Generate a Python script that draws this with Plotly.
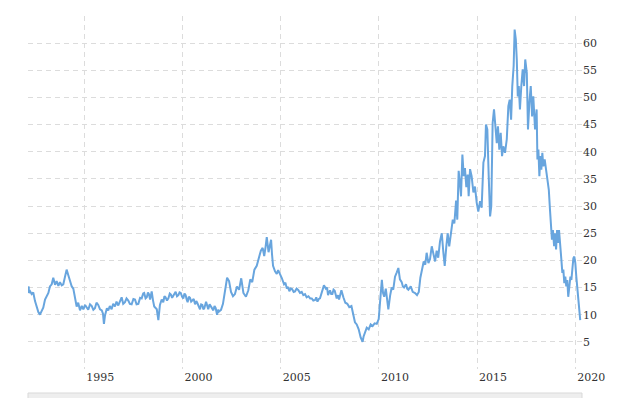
import plotly.graph_objects as go

# ---- data (decimal year, value) ----
years = [
    1992.15, 1992.17, 1992.18, 1992.24, 1992.32, 1992.40, 1992.49, 1992.58, 1992.66, 1992.74,
    1992.83, 1992.91, 1993.00, 1993.09, 1993.17, 1993.25, 1993.34, 1993.42, 1993.51, 1993.59,
    1993.68, 1993.76, 1993.85, 1993.93, 1994.02, 1994.10, 1994.19, 1994.27, 1994.36, 1994.44,
    1994.53, 1994.61, 1994.69, 1994.78, 1994.87, 1994.95,
    1995.04, 1995.12, 1995.20, 1995.29, 1995.38, 1995.46, 1995.54, 1995.62, 1995.71, 1995.80,
    1995.89, 1995.95, 1996.00, 1996.05, 1996.09, 1996.15, 1996.22, 1996.30, 1996.39, 1996.47,
    1996.56, 1996.64, 1996.73, 1996.82, 1996.90, 1996.98, 1997.07, 1997.15, 1997.24, 1997.32,
    1997.41, 1997.50, 1997.58, 1997.66, 1997.75, 1997.84, 1997.92, 1998.00, 1998.05, 1998.12,
    1998.18, 1998.24, 1998.29, 1998.35, 1998.43, 1998.50, 1998.56, 1998.69, 1998.77, 1998.85,
    1998.94, 1999.02, 1999.08, 1999.14, 1999.21, 1999.28, 1999.35, 1999.41, 1999.47, 1999.53,
    1999.59, 1999.65, 1999.72, 1999.79, 1999.85, 1999.91, 1999.98, 2000.04, 2000.10, 2000.16,
    2000.21, 2000.26, 2000.32, 2000.38, 2000.44, 2000.50, 2000.57, 2000.64, 2000.70, 2000.75,
    2000.82, 2000.89, 2000.95, 2001.01, 2001.06, 2001.11, 2001.20, 2001.25, 2001.31, 2001.38,
    2001.45, 2001.51, 2001.57, 2001.63, 2001.69, 2001.76, 2001.81, 2001.86, 2001.96, 2002.06,
    2002.16, 2002.27, 2002.37, 2002.47, 2002.57, 2002.67, 2002.77, 2002.88, 2002.99, 2003.10,
    2003.23, 2003.35, 2003.45, 2003.55, 2003.66, 2003.78, 2003.89, 2003.99, 2004.08, 2004.16,
    2004.23, 2004.29, 2004.38, 2004.45, 2004.51, 2004.56, 2004.61, 2004.71, 2004.80, 2004.87,
    2004.93, 2005.05, 2005.17, 2005.24, 2005.31, 2005.38, 2005.44, 2005.51, 2005.58, 2005.66,
    2005.73, 2005.81, 2005.90, 2005.98, 2006.07, 2006.15, 2006.24, 2006.32, 2006.41, 2006.50,
    2006.58, 2006.66, 2006.75, 2006.81, 2006.87, 2006.94, 2007.00, 2007.09, 2007.20, 2007.30,
    2007.36, 2007.41, 2007.51, 2007.57, 2007.63, 2007.69, 2007.75, 2007.85, 2007.92, 2007.97,
    2008.09, 2008.19, 2008.29, 2008.39, 2008.49, 2008.60, 2008.70, 2008.78, 2008.87, 2008.97,
    2009.07, 2009.17, 2009.22, 2009.28, 2009.38, 2009.48, 2009.58, 2009.68, 2009.78, 2009.89,
    2009.99, 2010.04, 2010.10, 2010.15, 2010.21, 2010.27, 2010.35, 2010.42, 2010.48, 2010.57,
    2010.65, 2010.73, 2010.82, 2010.91, 2010.99, 2011.07, 2011.16, 2011.22, 2011.28, 2011.38,
    2011.44, 2011.50, 2011.62, 2011.72, 2011.84, 2011.94, 2012.03, 2012.11, 2012.19, 2012.28,
    2012.36, 2012.43, 2012.52, 2012.60, 2012.69, 2012.77, 2012.86, 2012.94, 2013.02, 2013.11,
    2013.20, 2013.28, 2013.35, 2013.43, 2013.50, 2013.58, 2013.67, 2013.76, 2013.84, 2013.93,
    2013.99, 2014.06, 2014.13, 2014.18, 2014.25, 2014.32, 2014.38, 2014.45, 2014.52, 2014.57,
    2014.64, 2014.72, 2014.81, 2014.89, 2014.98, 2015.06, 2015.15, 2015.23, 2015.32, 2015.40,
    2015.45, 2015.52, 2015.59, 2015.66, 2015.72, 2015.79, 2015.86, 2015.93, 2016.00, 2016.06,
    2016.13, 2016.20, 2016.27, 2016.33, 2016.42, 2016.51, 2016.59, 2016.66, 2016.73, 2016.79,
    2016.86, 2016.91, 2016.97, 2017.02, 2017.07, 2017.12, 2017.18, 2017.25, 2017.32, 2017.39,
    2017.45, 2017.53, 2017.59, 2017.66, 2017.73, 2017.80, 2017.86, 2017.95, 2018.03, 2018.07,
    2018.12, 2018.17, 2018.22, 2018.27, 2018.32, 2018.37, 2018.44, 2018.51, 2018.57, 2018.65,
    2018.71, 2018.76, 2018.81, 2018.86, 2018.92, 2018.97, 2019.02, 2019.07, 2019.12, 2019.17,
    2019.22, 2019.29, 2019.34, 2019.39, 2019.44, 2019.49, 2019.54, 2019.59, 2019.64, 2019.69,
    2019.75, 2019.80, 2019.85, 2019.90, 2019.95, 2020.00, 2020.05, 2020.10, 2020.15, 2020.20,
    2020.25,
]

values = [
    14.5, 15.2, 14.0, 14.3, 13.8, 14.1, 12.5, 11.2, 10.5, 10.0,
    10.6, 11.3, 12.8, 13.6, 14.0, 15.2, 15.6, 16.8, 15.5, 16.2,
    15.3, 16.0, 15.4, 15.6, 17.0, 18.3, 17.2, 16.0, 15.2, 14.8,
    12.8, 11.5, 12.2, 10.8, 11.6, 11.0,
    11.8, 11.2, 10.9, 11.9, 11.6, 10.9, 11.2, 12.2, 11.8, 11.0,
    10.8, 10.2, 8.3, 9.8, 10.2, 11.2, 10.8, 11.6, 11.0, 12.0,
    11.5, 12.4, 11.7, 12.5, 13.2, 12.0, 12.3, 13.0, 12.6, 12.0,
    11.9, 12.9, 12.8, 11.9, 12.0, 13.1, 13.0, 13.9, 14.0, 13.0,
    13.2, 14.1, 13.8, 12.8, 14.3, 12.6, 11.5, 11.0, 9.0, 11.8,
    12.8, 12.3, 13.4, 13.2, 12.6, 13.0, 13.9, 13.7, 13.1, 13.5,
    14.0, 14.2, 13.4, 13.6, 14.1, 14.0, 13.3, 13.0, 13.9, 13.6,
    12.8, 12.3, 13.3, 13.1, 12.4, 12.6, 12.9, 11.9, 12.5, 12.2,
    11.4, 11.0, 11.9, 11.8, 11.0, 11.2, 12.4, 11.6, 11.0, 11.9,
    11.5, 11.0, 10.8, 11.6, 11.2, 10.0, 10.9, 10.6, 10.9, 12.0,
    14.5, 16.8, 16.2, 14.2, 13.4, 13.8, 15.2, 14.6, 16.7, 14.0,
    13.3, 14.5, 16.5, 16.0, 18.3, 19.0, 20.5, 21.8, 22.3, 20.8,
    22.5, 24.3, 21.5, 23.2, 23.8, 21.0, 19.0, 18.0, 17.5, 18.2,
    17.8, 16.8, 15.6, 15.9, 14.8, 15.1, 14.3, 14.8, 14.7, 14.2,
    14.3, 14.8, 14.5, 14.0, 14.2, 13.6, 13.8, 13.2, 13.4, 13.0,
    13.0, 12.6, 12.7, 13.2, 12.4, 12.9, 13.0, 14.2, 15.4, 14.8,
    15.0, 13.6, 14.5, 13.8, 13.8, 14.6, 14.4, 13.0, 13.6, 12.8,
    14.5, 13.2, 12.2, 12.0, 11.4, 11.6, 10.0, 8.6, 8.2, 7.3,
    5.8, 5.0, 6.0, 6.5, 7.6, 7.3, 8.2, 7.9, 8.4, 8.3,
    9.2, 11.5, 14.5, 16.4, 14.0, 13.3, 14.8, 12.5, 11.0, 13.5,
    15.0, 14.6, 17.0, 17.8, 18.6, 16.5, 16.0, 15.2, 15.0, 15.6,
    14.8, 14.6, 15.2, 14.2, 14.0, 13.6, 14.2, 16.8, 18.0, 19.8,
    19.2, 21.4, 19.5, 20.2, 22.6, 21.0, 19.8, 21.8, 20.5, 23.5,
    25.0, 21.5, 19.0, 22.5, 25.0, 22.6, 25.6, 27.5, 26.8, 31.0,
    27.5, 36.5, 34.0, 31.8, 39.5, 35.5, 37.0, 33.5, 35.8, 31.8,
    36.8, 35.5, 32.5, 33.6, 30.6, 29.0, 30.9, 29.7, 38.0, 39.2,
    45.0, 44.1, 35.5, 28.1, 30.0, 45.3, 47.8, 44.1, 41.6, 44.7,
    40.4, 43.5, 39.2, 41.0, 39.8, 42.3, 48.4, 49.6, 45.9, 52.1,
    55.8, 62.5, 60.7, 57.0, 50.2, 52.1, 47.8, 52.1, 55.2, 52.1,
    57.0, 54.5, 44.1, 49.0, 52.1, 46.5, 50.2, 44.1, 47.8, 38.6,
    40.4, 35.5, 39.2, 36.7, 39.8, 37.3, 38.6, 36.7, 34.9, 33.0,
    29.3, 26.9, 23.8, 25.6, 22.6, 25.0, 22.0, 25.6, 23.2, 25.6,
    22.6, 20.1, 17.7, 18.3, 15.8, 17.0, 15.2, 16.4, 13.3, 15.2,
    17.0, 16.4, 18.9, 20.4, 20.7, 19.5, 17.0, 15.2, 12.1, 10.9,
    9.0,
]

x_tick_values = [1995, 2000, 2005, 2010, 2015, 2020]
x_tick_labels = ["1995", "2000", "2005", "2010", "2015", "2020"]
y_tick_values = [0, 5, 10, 15, 20, 25, 30, 35, 40, 45, 50, 55, 60, 65]
y_tick_labels = ["", "5", "10", "15", "20", "25", "30", "35", "40", "45", "50", "55", "60", ""]

LINE_COLOR = "#68a5de"
GRID_COLOR = "#dcdcdc"
FONT = dict(family="DejaVu Serif", size=11, color="#333333")

fig = go.Figure()
fig.add_trace(go.Scatter(
    x=years, y=values, mode="lines",
    line=dict(color=LINE_COLOR, width=2),
    showlegend=False, hoverinfo="x+y",
))

fig.update_layout(
    width=640, height=398,
    margin=dict(l=28, r=58, t=16, b=29),
    paper_bgcolor="white", plot_bgcolor="white",
    font=FONT,
    xaxis=dict(
        range=[1992.133, 2020.34],
        tickmode="array", tickvals=x_tick_values, ticktext=x_tick_labels,
        showgrid=True, gridcolor=GRID_COLOR, griddash="5px,4px", gridwidth=1,
        zeroline=False, showline=False, ticks="",
        ticklabelshift=16, tickfont=FONT,
    ),
    yaxis=dict(
        range=[0, 65], side="right",
        tickmode="array", tickvals=y_tick_values, ticktext=y_tick_labels,
        showgrid=True, gridcolor=GRID_COLOR, griddash="5px,4px", gridwidth=1,
        zeroline=False, showline=False, ticks="",
        tickfont=FONT,
    ),
    shapes=[
        dict(type="rect", xref="paper", yref="paper",
             x0=0, x1=1.0, y0=-0.09, y1=-0.068,
             fillcolor="#eeeeee", line=dict(color="#d9d9d9", width=1), layer="below"),
    ],
)

fig.write_html("out.html", config={"displayModeBar": False},
               post_script="document.body.style.margin='0px';")
